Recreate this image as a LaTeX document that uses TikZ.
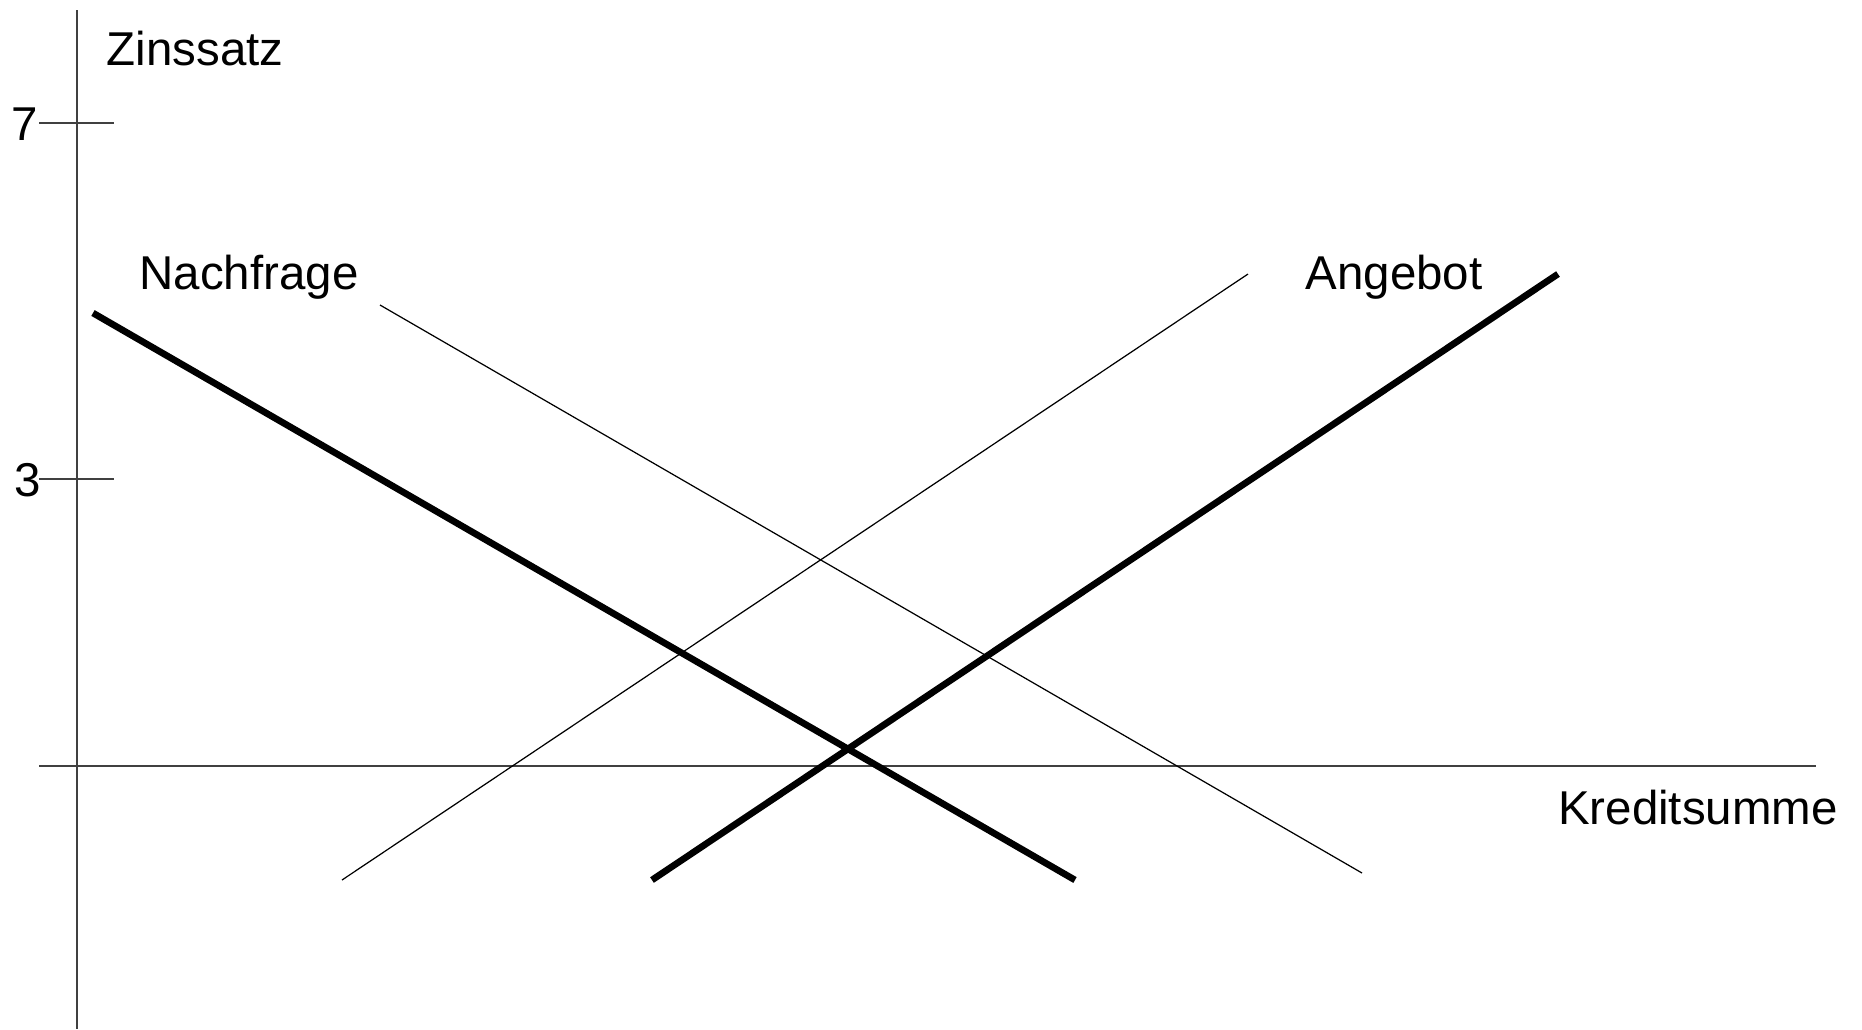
\documentclass[tikz,border=0pt]{standalone}
\usepackage{fontspec}
\setmainfont{Liberation Sans}
\usepackage{tikz}

\begin{document}
\begin{tikzpicture}[x=0.01cm, y=-0.01cm, font=\fontsize{13.5}{16}\selectfont]
    \useasboundingbox (0,0) rectangle (1862,1029);
    \tikzset{axis/.style={draw=black!75, line width=0.45pt},
             thincurve/.style={line width=0.35pt},
             thickcurve/.style={line width=1.9pt}}
    % axes
    \coordinate (ytop) at (77,10);
    \coordinate (ybot) at (77,1029);
    \coordinate (xleft) at (39,766);
    \coordinate (xright) at (1816,766);
    \draw[axis] (ytop) -- (ybot);
    \draw[axis] (xleft) -- (xright);
    % ticks
    \coordinate (t7a) at (39,123);
    \coordinate (t7b) at (114,123);
    \coordinate (t3a) at (39,479);
    \coordinate (t3b) at (114,479);
    \draw[axis] (t7a) -- (t7b);
    \draw[axis] (t3a) -- (t3b);
    \node (seven) at (25,124) {7};
    \node (three) at (28,480) {3};
    \node (zins) at (195,49) {Zinssatz};
    \node (kredit) at (1698,808) {Kreditsumme};
    \node (nach) at (249,277) {Nachfrage};
    \node (ange) at (1394,277) {Angebot};
    % curves
    \coordinate (dA) at (93,313);
    \coordinate (dB) at (1075,880);
    \coordinate (sA) at (652,880);
    \coordinate (sB) at (1558,274);
    \coordinate (dA2) at (380,305);
    \coordinate (dB2) at (1362,873);
    \coordinate (sA2) at (342,880);
    \coordinate (sB2) at (1248,274);
    \draw[thincurve] (dA2) -- (dB2);
    \draw[thincurve] (sA2) -- (sB2);
    \draw[thickcurve] (dA) -- (dB);
    \draw[thickcurve] (sA) -- (sB);
\end{tikzpicture}
\end{document}
